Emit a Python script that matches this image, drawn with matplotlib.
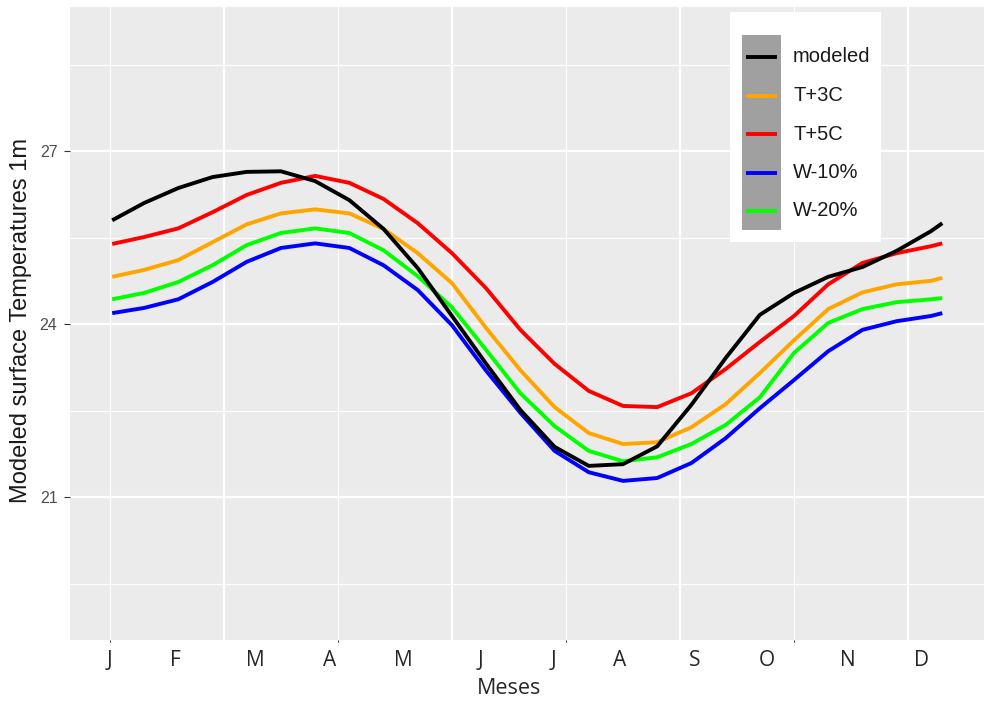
import matplotlib.pyplot as plt
from matplotlib.patches import Rectangle

# --- DATOS ---
dias = [1, 15, 30, 45, 60, 75, 90, 105, 120, 135, 150, 165, 180,
        195, 210, 225, 240, 255, 270, 285, 300, 315, 330, 345, 360, 365]

modeled = [25.80, 26.10, 26.36, 26.55, 26.64, 26.65, 26.48, 26.15, 25.65, 24.97,
           24.14, 23.31, 22.51, 21.87, 21.54, 21.57, 21.88, 22.60, 23.41, 24.16,
           24.54, 24.82, 24.99, 25.27, 25.61, 25.75]
t_mas3 = [24.82, 24.94, 25.11, 25.42, 25.73, 25.92, 25.99, 25.92, 25.65, 25.23,
          24.71, 23.93, 23.20, 22.56, 22.11, 21.92, 21.95, 22.21, 22.61, 23.15,
          23.72, 24.26, 24.55, 24.69, 24.75, 24.80]
t_mas5 = [25.39, 25.51, 25.66, 25.94, 26.24, 26.45, 26.57, 26.45, 26.17, 25.75,
          25.23, 24.62, 23.90, 23.31, 22.84, 22.58, 22.56, 22.80, 23.22, 23.69,
          24.14, 24.69, 25.06, 25.23, 25.35, 25.40]
w_menos10 = [24.19, 24.28, 24.43, 24.73, 25.08, 25.32, 25.40, 25.32, 25.02, 24.59,
             23.98, 23.19, 22.46, 21.80, 21.43, 21.28, 21.33, 21.59, 22.02, 22.54,
             23.03, 23.53, 23.90, 24.05, 24.14, 24.19]
w_menos20 = [24.43, 24.54, 24.73, 25.02, 25.37, 25.58, 25.66, 25.58, 25.28, 24.83,
             24.29, 23.55, 22.80, 22.23, 21.80, 21.62, 21.69, 21.92, 22.25, 22.73,
             23.50, 24.02, 24.26, 24.38, 24.43, 24.45]

series = [("T+3C", t_mas3, "#FFA500"),
          ("T+5C", t_mas5, "#FF0000"),
          ("W-10%", w_menos10, "#0000FF"),
          ("W-20%", w_menos20, "#00FF00"),
          ("modeled", modeled, "#000000")]
orden_leyenda = ["modeled", "T+3C", "T+5C", "W-10%", "W-20%"]

meses = ["J", "F", "M", "A", "M", "J", "J", "A", "S", "O", "N", "D"]
pos_meses = [0, 28.5, 63.6, 96.5, 128.5, 162.7, 194.3, 223.7, 256.6, 288.2, 323.7, 356.1]

# --- FIGURA ---
fig = plt.figure(figsize=(9.84, 7.02), dpi=100)
ax = fig.add_axes([70 / 984, 1 - 640 / 702, 914 / 984, 633 / 702])
ax.set_facecolor("#EBEBEB")
for s in ax.spines.values():
    s.set_visible(False)

ax.set_xlim(-17.5, 383.3)
ax.set_ylim(18.52, 29.50)

# rejilla estilo ggplot
for x in [50, 150, 250, 350]:
    ax.axvline(x, color="white", lw=1.6, zorder=0)
for x in [0, 100, 200, 300]:
    ax.axvline(x, color="white", lw=0.8, zorder=0)
for y in [21, 24, 27]:
    ax.axhline(y, color="white", lw=1.6, zorder=0)
for y in [19.5, 22.5, 25.5, 28.5]:
    ax.axhline(y, color="white", lw=0.8, zorder=0)

ax.set_xticks([0, 100, 200, 300])
ax.set_xticklabels([])
ax.set_yticks([21, 24, 27])
ax.set_yticklabels(["21", "24", "27"], family="Liberation Sans", fontsize=11.5, color="#4D4D4D")
ax.tick_params(axis="x", length=1.5, width=0.8, color="#333333")
ax.tick_params(axis="y", length=4, width=0.8, color="#333333", pad=5)

for nombre, vals, col in series:
    ax.plot(dias, vals, color=col, lw=2.8, solid_joinstyle="round",
            solid_capstyle="butt", zorder=3)

# etiquetas de meses
for m, p in zip(meses, pos_meses):
    ax.text(p, -0.032, m, transform=ax.get_xaxis_transform(), ha="center", va="center",
            fontsize=15, family="Open Sans", color="#262626")

ax.text(0.480, -0.077, "Meses", transform=ax.transAxes, ha="center", va="center",
        fontsize=15.5, family="Open Sans", color="#262626")
fig.text(21 / 984, 1 - 321 / 702, "Modeled surface Temperatures 1m", rotation=90,
         ha="center", va="center", fontsize=17, family="Liberation Sans", color="#1A1A1A")

# --- LEYENDA ---
lg = fig.add_axes([730 / 984, 1 - 242 / 702, 151 / 984, 230 / 702])
lg.set_xlim(730, 881)
lg.set_ylim(242, 12)
lg.axis("off")
lg.add_patch(Rectangle((730, 12), 151, 230, facecolor="white", edgecolor="none"))
lg.add_patch(Rectangle((742, 35), 39, 195, facecolor="#A0A0A0", edgecolor="none"))
colores = {n: c for n, _, c in series}
for i, n in enumerate(orden_leyenda):
    yk = 57 + i * 38.5
    lg.plot([746, 777], [yk, yk], color=colores[n], lw=2.8, solid_capstyle="butt")
    lg.text(793, yk, n, ha="left", va="center", fontsize=14.5,
            family="Liberation Sans", color="#1A1A1A")

fig.savefig("out.png", dpi=100, facecolor="white")
